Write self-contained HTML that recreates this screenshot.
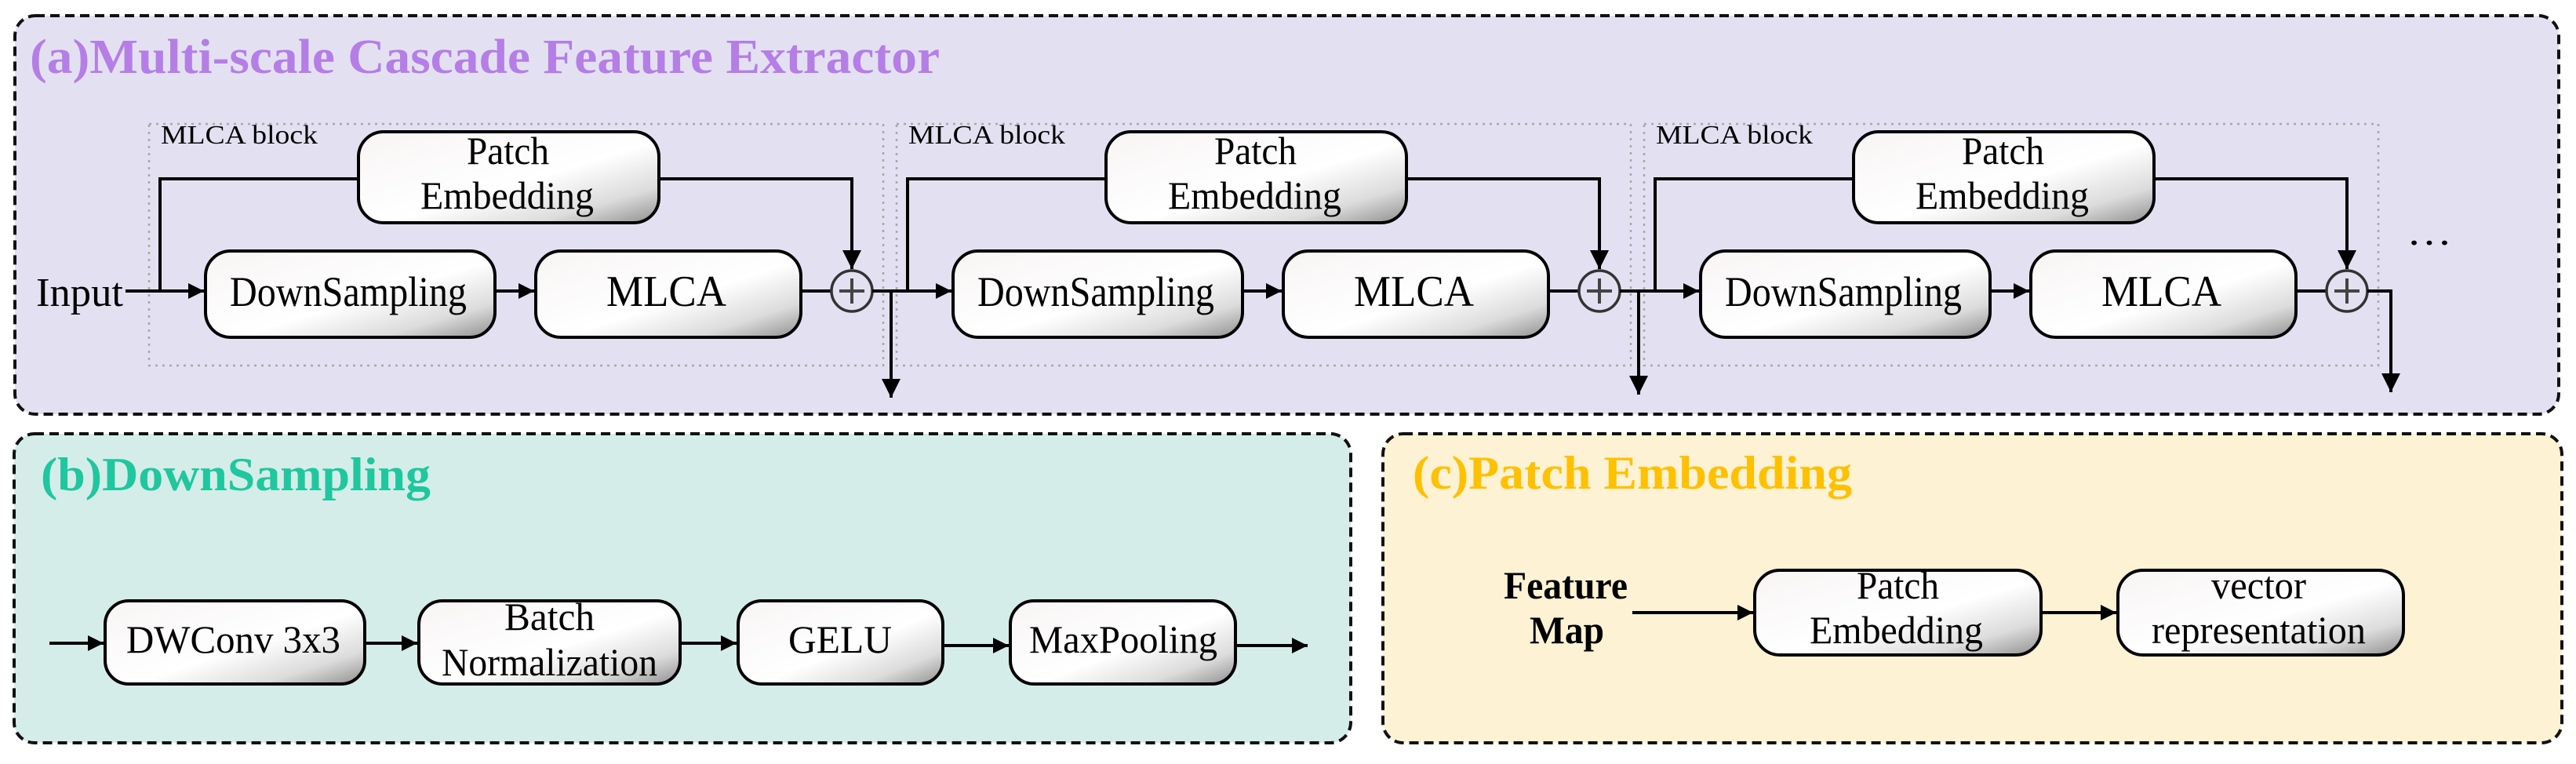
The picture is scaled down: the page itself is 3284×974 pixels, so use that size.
<!DOCTYPE html>
<html><head><meta charset="utf-8"><style>html,body{margin:0;padding:0;background:#fff}svg{display:block}svg,text{font-family:"Liberation Serif","DejaVu Serif",serif}</style></head>
<body>
<svg width="3284" height="974" viewBox="0 0 3284 974" xmlns="http://www.w3.org/2000/svg">
<defs>
<linearGradient id="g" x1="0" y1="0" x2="1" y2="1">
<stop offset="0" stop-color="#f8f4f4"/><stop offset="0.55" stop-color="#ffffff"/><stop offset="0.8" stop-color="#dcdcdc"/><stop offset="1" stop-color="#8e8e8e"/>
</linearGradient>
<marker id="ar" viewBox="0 0 10 10" refX="10" refY="5" markerWidth="20" markerHeight="22" markerUnits="userSpaceOnUse" orient="auto"><path d="M0,0 L10,5 L0,10 z" fill="#000"/></marker>
<marker id="ad" viewBox="0 0 10 10" refX="10" refY="5" markerWidth="24" markerHeight="24" markerUnits="userSpaceOnUse" orient="auto"><path d="M0,0 L10,5 L0,10 z" fill="#000"/></marker>
<g id="blk">
<rect x="190" y="158" width="936" height="308" fill="none" stroke="#a8a8a8" stroke-width="2.5" stroke-dasharray="3 6"/>
<text x="205" y="183" font-size="34" textLength="200" lengthAdjust="spacingAndGlyphs">MLCA block</text>
<rect x="457" y="168" width="383" height="116" rx="32" fill="url(#g)" stroke="#000" stroke-width="4"/>
<text x="595" y="209" font-size="50" textLength="105" lengthAdjust="spacingAndGlyphs">Patch</text>
<text x="536" y="266" font-size="50" textLength="221" lengthAdjust="spacingAndGlyphs">Embedding</text>
<rect x="262" y="320" width="369" height="110" rx="32" fill="url(#g)" stroke="#000" stroke-width="4"/>
<text x="293" y="390" font-size="54" textLength="302" lengthAdjust="spacingAndGlyphs">DownSampling</text>
<rect x="683" y="320" width="338" height="110" rx="32" fill="url(#g)" stroke="#000" stroke-width="4"/>
<text x="773" y="390" font-size="56" textLength="153" lengthAdjust="spacingAndGlyphs">MLCA</text>
<line x1="631" y1="371" x2="681" y2="371" stroke="#000" stroke-width="4" marker-end="url(#ar)"/>
<line x1="1021" y1="371" x2="1059" y2="371" stroke="#000" stroke-width="4"/>
<polyline points="204,371 204,228 457,228" fill="none" stroke="#000" stroke-width="4"/>
<polyline points="840,228 1086,228 1086,343" fill="none" stroke="#000" stroke-width="4" marker-end="url(#ad)"/>
<circle cx="1086" cy="371" r="26" fill="none" stroke="#333" stroke-width="3.5"/>
<line x1="1070" y1="371" x2="1102" y2="371" stroke="#444" stroke-width="4"/>
<line x1="1086" y1="355" x2="1086" y2="387" stroke="#444" stroke-width="4"/>
</g>
</defs>
<!-- panel a -->
<rect x="19" y="20" width="3243" height="508" rx="26" fill="#e3e1f1" stroke="#111" stroke-width="4" stroke-dasharray="12 7"/>
<text x="38" y="93" font-size="62" font-weight="bold" fill="#b57ee6" textLength="1160" lengthAdjust="spacingAndGlyphs">(a)Multi-scale Cascade Feature  Extractor</text>
<use href="#blk"/>
<use href="#blk" x="953"/>
<use href="#blk" x="1906"/>
<text x="46" y="390" font-size="52" textLength="111" lengthAdjust="spacingAndGlyphs">Input</text>
<line x1="160" y1="371" x2="260" y2="371" stroke="#000" stroke-width="4" marker-end="url(#ar)"/>
<line x1="1112" y1="371" x2="1213" y2="371" stroke="#000" stroke-width="4" marker-end="url(#ar)"/>
<line x1="2065" y1="371" x2="2166" y2="371" stroke="#000" stroke-width="4" marker-end="url(#ar)"/>
<line x1="1136" y1="371" x2="1136" y2="507" stroke="#000" stroke-width="4" marker-end="url(#ad)"/>
<line x1="2089" y1="371" x2="2089" y2="503" stroke="#000" stroke-width="4" marker-end="url(#ad)"/>
<polyline points="3018,371 3048,371 3048,500" fill="none" stroke="#000" stroke-width="4" marker-end="url(#ad)"/>
<text x="3068" y="312" font-size="50" textLength="58" lengthAdjust="spacingAndGlyphs">…</text>
<!-- panel b -->
<rect x="18" y="553" width="1704" height="394" rx="26" fill="#d5ede9" stroke="#111" stroke-width="4" stroke-dasharray="12 7"/>
<text x="52" y="625" font-size="60" font-weight="bold" fill="#1fc79e" textLength="497" lengthAdjust="spacingAndGlyphs">(b)DownSampling</text>
<g stroke="#000" stroke-width="4">
<rect x="134" y="766" width="331" height="106" rx="30" fill="url(#g)"/>
<rect x="534" y="766" width="333" height="106" rx="30" fill="url(#g)"/>
<rect x="941" y="766" width="261" height="106" rx="30" fill="url(#g)"/>
<rect x="1288" y="766" width="287" height="106" rx="30" fill="url(#g)"/>
<line x1="63" y1="820" x2="132" y2="820" marker-end="url(#ar)"/>
<line x1="465" y1="820" x2="532" y2="820" marker-end="url(#ar)"/>
<line x1="867" y1="820" x2="939" y2="820" marker-end="url(#ar)"/>
<line x1="1202" y1="823" x2="1286" y2="823" marker-end="url(#ar)"/>
<line x1="1575" y1="823" x2="1667" y2="823" marker-end="url(#ar)"/>
</g>
<text x="161" y="832" font-size="50" textLength="273" lengthAdjust="spacingAndGlyphs">DWConv 3x3</text>
<text x="643" y="803" font-size="50" textLength="115" lengthAdjust="spacingAndGlyphs">Batch</text>
<text x="563" y="861" font-size="50" textLength="275" lengthAdjust="spacingAndGlyphs">Normalization</text>
<text x="1005" y="832" font-size="50" textLength="132" lengthAdjust="spacingAndGlyphs">GELU</text>
<text x="1312" y="832" font-size="50" textLength="240" lengthAdjust="spacingAndGlyphs">MaxPooling</text>
<!-- panel c -->
<rect x="1763" y="553" width="1503" height="394" rx="26" fill="#fdf2d3" stroke="#111" stroke-width="4" stroke-dasharray="12 7"/>
<text x="1801" y="623" font-size="60" font-weight="bold" fill="#ffc000" textLength="560" lengthAdjust="spacingAndGlyphs">(c)Patch Embedding</text>
<text x="1917" y="763" font-size="50" font-weight="bold" textLength="158" lengthAdjust="spacingAndGlyphs">Feature</text>
<text x="1950" y="820" font-size="50" font-weight="bold" textLength="95" lengthAdjust="spacingAndGlyphs">Map</text>
<g stroke="#000" stroke-width="4">
<rect x="2237" y="727" width="365" height="108" rx="32" fill="url(#g)"/>
<rect x="2700" y="727" width="364" height="108" rx="32" fill="url(#g)"/>
<line x1="2081" y1="781" x2="2235" y2="781" marker-end="url(#ar)"/>
<line x1="2602" y1="781" x2="2698" y2="781" marker-end="url(#ar)"/>
</g>
<text x="2367" y="763" font-size="50" textLength="105" lengthAdjust="spacingAndGlyphs">Patch</text>
<text x="2307" y="820" font-size="50" textLength="221" lengthAdjust="spacingAndGlyphs">Embedding</text>
<text x="2819" y="763" font-size="50" textLength="121" lengthAdjust="spacingAndGlyphs">vector</text>
<text x="2743" y="820" font-size="50" textLength="273" lengthAdjust="spacingAndGlyphs">representation</text>
</svg>
</body></html>
